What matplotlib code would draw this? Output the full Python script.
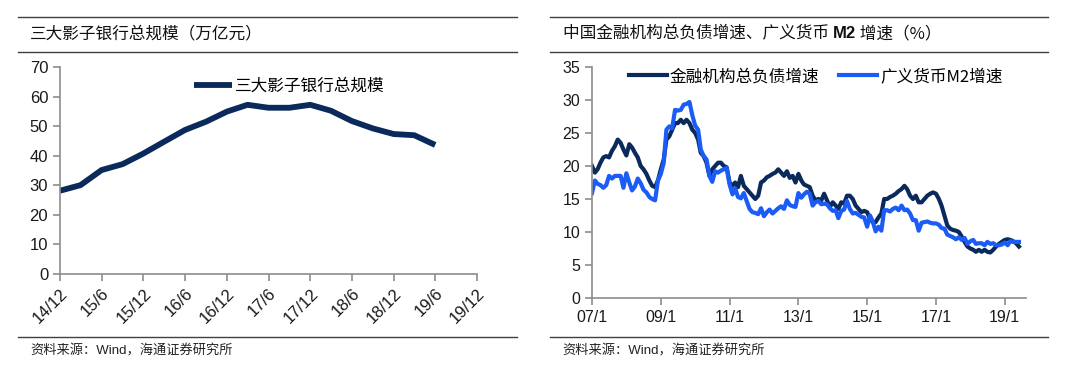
import pandas as pd
import matplotlib.pyplot as plt
from matplotlib.lines import Line2D

# --- Data -------------------------------------------------------------------
SHADOW_DATES = ["2014-12", "2015-03", "2015-06", "2015-09", "2015-12", "2016-03",
                "2016-06", "2016-09", "2016-12", "2017-03", "2017-06", "2017-09",
                "2017-12", "2018-03", "2018-06", "2018-09", "2018-12", "2019-03",
                "2019-06"]
SHADOW_TOTAL = [28.2, 30.1, 35.2, 37.2, 40.8, 44.8, 48.8, 51.6, 55.0, 57.3, 56.3,
                56.3, 57.3, 55.3, 51.8, 49.3, 47.4, 47.0, 43.7]
LEFT_TICK_DATES = ["2014-12", "2015-06", "2015-12", "2016-06", "2016-12", "2017-06",
                   "2017-12", "2018-06", "2018-12", "2019-06", "2019-12"]
LEFT_TICK_LABELS = ["14/12", "15/6", "15/12", "16/6", "16/12", "17/6",
                    "17/12", "18/6", "18/12", "19/6", "19/12"]

MONTH_START = "2007-01"
LIAB_GROWTH = [
    20, 19, 19.5, 20.5, 21.3, 21.5, 21.3, 22.3, 23, 24, 23.5, 22.5,          # 2007
    21.6, 23.3, 22.8, 22, 21.3, 20, 19.5, 18.8, 17.8, 17, 16.8, 17.8,        # 2008
    19.5, 21, 24, 24.5, 25.5, 26.5, 26.5, 27, 26.5, 27, 26.5, 25.5,          # 2009
    25, 24, 22, 21.5, 20.5, 18.5, 19.5, 20, 20.5, 20.5, 20, 19.8,            # 2010
    17.5, 17, 17.5, 16.8, 18.5, 17, 16.5, 16, 15.5, 15, 15.5, 17.5,          # 2011
    17.8, 18.3, 18.5, 18.8, 19, 19.5, 19, 18.5, 19.2, 18.2, 18.5, 17.5,      # 2012
    18.8, 17.8, 17.2, 17, 16.8, 15.5, 14.8, 15, 14.8, 15.8, 14.8, 13.8,      # 2013
    14.5, 14, 13.5, 14.5, 14.3, 15.5, 15.5, 15, 14, 13.5, 13, 13.2,          # 2014
    13, 12, 11.5, 11.5, 12.2, 12.8, 15, 15, 15.3, 15.5, 15.8, 16.2,          # 2015
    16.5, 17, 16.5, 15.5, 15, 15.5, 14.5, 14.5, 15, 15.5, 15.8, 16,          # 2016
    15.8, 15, 14, 12.5, 11, 10.5, 10.3, 10.2, 10, 9.3, 8.5, 7.8,             # 2017
    7.5, 7.3, 7, 7.3, 7, 7.3, 7, 6.9, 7.3, 7.8, 8.2, 8.5,                    # 2018
    8.8, 8.9, 8.8, 8.6, 8.3, 7.8,                                            # 2019
]
M2_GROWTH = [
    15.9, 17.8, 17.3, 17.1, 16.7, 17.1, 18.5, 18.1, 18.5, 18.5, 18.5, 16.7,  # 2007
    18.9, 17.5, 16.3, 16.9, 18.1, 17.4, 16.4, 16.0, 15.3, 15.0, 14.8, 17.8,  # 2008
    18.8, 20.5, 25.5, 26.0, 25.7, 28.5, 28.4, 28.5, 29.3, 29.4, 29.7, 27.7,  # 2009
    26.1, 25.5, 22.5, 21.5, 21.0, 18.5, 17.6, 19.2, 19.0, 19.3, 19.5, 19.7,  # 2010
    17.2, 15.7, 16.6, 15.3, 15.1, 15.9, 14.7, 13.5, 13.0, 12.9, 12.7, 13.6,  # 2011
    12.4, 13.0, 13.4, 12.8, 13.2, 13.6, 13.9, 13.5, 14.8, 14.1, 13.9, 13.8,  # 2012
    15.9, 15.2, 15.7, 16.1, 15.8, 14.0, 14.5, 14.7, 14.2, 14.3, 14.2, 13.6,  # 2013
    13.2, 13.3, 12.1, 13.2, 13.4, 14.7, 13.5, 12.8, 12.9, 12.6, 12.3, 12.2,  # 2014
    10.8, 12.5, 11.6, 10.1, 10.8, 10.2, 13.3, 13.3, 13.1, 13.5, 13.7, 13.3,  # 2015
    14.0, 13.3, 13.4, 12.8, 11.8, 11.8, 10.2, 11.4, 11.5, 11.6, 11.4, 11.3,  # 2016
    11.3, 11.1, 10.6, 10.5, 9.6, 9.4, 9.2, 8.9, 9.2, 8.8, 9.1, 8.2,          # 2017
    8.6, 8.8, 8.2, 8.3, 8.3, 8.0, 8.5, 8.2, 8.3, 8.0, 8.0, 8.1,              # 2018
    8.4, 8.0, 8.6, 8.5, 8.5, 8.5,                                            # 2019
]
RIGHT_TICK_DATES = ["2007-01", "2009-01", "2011-01", "2013-01", "2015-01",
                    "2017-01", "2019-01"]
RIGHT_TICK_LABELS = ["07/1", "09/1", "11/1", "13/1", "15/1", "17/1", "19/1"]

# --- Style ------------------------------------------------------------------
NAVY = "#0b2a5c"
BLUE = "#1a5cf5"
SPINE = "#8c8c8c"
RULE = "#404040"
CJK = ["Noto Sans CJK SC", "DejaVu Sans"]
NUM = ["Liberation Sans", "Noto Sans CJK SC"]

plt.rcParams["font.family"] = CJK


def style_axes(ax, fontsize):
    for side in ("top", "right"):
        ax.spines[side].set_visible(False)
    for side in ("left", "bottom"):
        ax.spines[side].set_color(SPINE)
        ax.spines[side].set_linewidth(1.2)
    ax.tick_params(axis="both", direction="out", length=5, width=1.2,
                   color=SPINE, labelsize=fontsize, labelcolor="#1a1a1a")
    for lab in ax.get_xticklabels() + ax.get_yticklabels():
        lab.set_family(NUM)


def chained_text(fig, x, y, parts, **kw):
    # draw text pieces one after another (for the bold "M2" in the title)
    renderer = fig.canvas.get_renderer()
    for s, weight, family in parts:
        t = fig.text(x, y, s, fontweight=weight, family=family, **kw)
        bb = t.get_window_extent(renderer=renderer)
        x = fig.transFigure.inverted().transform((bb.x1, bb.y0))[0]


def main():
    fig = plt.figure(figsize=(10.8, 3.67), dpi=100)

    # header / footer rules
    for x0, x1 in ((0.017, 0.479), (0.509, 0.970)):
        for y in (1 - 16.7 / 367, 1 - 51.7 / 367, 1 - 336.5 / 367):
            fig.add_artist(Line2D([x0, x1], [y, y], transform=fig.transFigure,
                                  color=RULE, lw=1.0))

    fig.text(0.028, 1 - 34 / 367, "三大影子银行总规模（万亿元）", fontsize=12,
             va="center", ha="left", color="#111111")
    chained_text(fig, 0.521, 1 - 34 / 367,
                 [("中国金融机构总负债增速、广义货币 ", "normal", CJK),
                  ("M2", "bold", NUM),
                  (" 增速（%）", "normal", CJK)],
                 fontsize=12, va="center", ha="left", color="#111111")
    for x in (0.028, 0.521):
        fig.text(x, 1 - 351 / 367, "资料来源：Wind，海通证券研究所", fontsize=9.5,
                 va="center", ha="left", color="#222222", family=NUM)

    # --- left panel ---
    ax1 = fig.add_axes([60 / 1080, 1 - 274 / 367, 417 / 1080, 206.7 / 367])
    d1 = pd.to_datetime(SHADOW_DATES)
    ax1.plot(d1, SHADOW_TOTAL, color=NAVY, lw=4.2, solid_capstyle="butt",
             label="三大影子银行总规模")
    ticks1 = pd.to_datetime(LEFT_TICK_DATES)
    ax1.set_xlim(ticks1[0], ticks1[-1])
    ax1.set_ylim(0, 70)
    ax1.set_yticks(range(0, 71, 10))
    ax1.set_xticks(ticks1)
    ax1.set_xticklabels(LEFT_TICK_LABELS, rotation=45, ha="right",
                        rotation_mode="anchor")
    style_axes(ax1, 12)
    ax1.legend(loc="upper left", bbox_to_anchor=(0.285, 1.02), frameon=False,
               fontsize=12, handlelength=2.3, handletextpad=0.15)

    # --- right panel ---
    ax2 = fig.add_axes([592 / 1080, 1 - 298 / 367, 434 / 1080, 231 / 367])
    d2 = pd.date_range(MONTH_START, periods=len(LIAB_GROWTH), freq="MS")
    ax2.plot(d2, LIAB_GROWTH, color=NAVY, lw=3.0, label="金融机构总负债增速")
    ax2.plot(d2, M2_GROWTH, color=BLUE, lw=3.0, label="广义货币M2增速")
    ticks2 = pd.to_datetime(RIGHT_TICK_DATES)
    ax2.set_xlim(ticks2[0], pd.Timestamp("2019-08-15"))
    ax2.set_ylim(0, 35)
    ax2.set_yticks(range(0, 36, 5))
    ax2.set_xticks(ticks2)
    ax2.set_xticklabels(RIGHT_TICK_LABELS)
    style_axes(ax2, 11.5)
    ax2.legend(loc="upper left", bbox_to_anchor=(0.05, 1.06), frameon=False,
               fontsize=12, ncol=2, handlelength=2.3, handletextpad=0.15,
               columnspacing=1.2)

    fig.savefig("out.png", dpi=100)


if __name__ == "__main__":
    main()
